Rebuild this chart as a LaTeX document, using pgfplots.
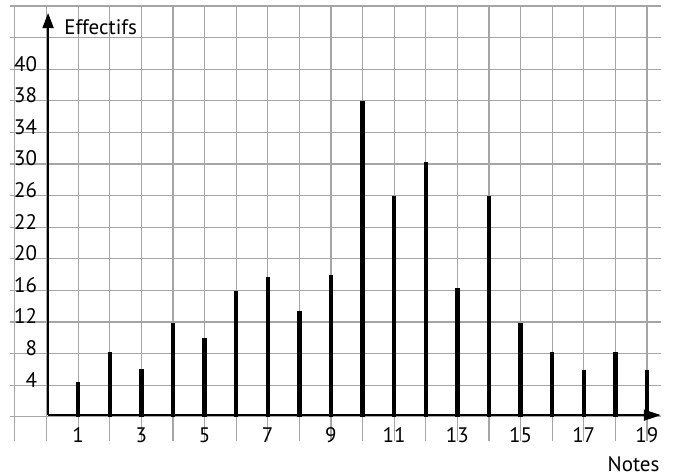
\documentclass[border=0pt]{standalone}
\usepackage{fontspec}
\setmainfont{PT Sans}
\usepackage{pgfplots}
\pgfplotsset{compat=1.18}
\usetikzlibrary{arrows.meta}
\definecolor{gridgray}{RGB}{165,165,165}
\begin{document}
\begin{tikzpicture}
\begin{axis}[
  x=15.8pt, y=3.95pt,
  xmin=-1.155, xmax=19.44, ymin=-3.08, ymax=52,
  axis line style={draw=none},
  tick style={draw=none},
  grid=major,
  major grid style={gridgray, line width=0.6pt},
  xtick={-1,0,...,19},
  xticklabels={,,1,,3,,5,,7,,9,,11,,13,,15,,17,,19},
  ytick={0,4,...,52},
  yticklabels={,4,8,12,16,20,22,26,30,34,38,40,,},
  xticklabel style={anchor=base, inner sep=0pt, yshift=-0.5pt},
  yticklabel style={anchor=base east, inner sep=0pt, xshift=13.75pt, yshift=-1pt},
  /pgf/number format/assume math mode=true,
  tick label style={font=\fontsize{10.5}{12}\selectfont},
  clip=false,
]
\path (axis cs:-1.4715,52.75) rectangle (axis cs:19.889,-7.38);
\addplot[ycomb, black, line width=2.2pt, mark=none] coordinates {
(1,4.4) (2,8.2) (3,6.0) (4,11.9) (5,10.0) (6,15.9) (7,17.7) (8,13.4) (9,17.9) (10,40.0)
(11,27.9) (12,32.2) (13,16.3) (14,27.9) (15,11.9) (16,8.2) (17,5.9) (18,8.2) (19,5.9)
};
\draw[line width=0.8pt, -{Triangle[length=8.5pt,width=5.5pt]}] (axis cs:0.05,0.2) -- (axis cs:19.44,0.2);
\draw[line width=0.8pt, -{Triangle[length=7.5pt,width=5.5pt]}] (axis cs:0.05,0.2) -- (axis cs:0.05,51.1);
\node[anchor=base west, inner sep=0pt, font=\fontsize{10.5}{12}\selectfont] at (axis cs:0.55,48.4) {Effectifs};
\node[anchor=base east, inner sep=0pt, font=\fontsize{10.5}{12}\selectfont] at (axis cs:19.41,-6.87) {Notes};
\end{axis}
\end{tikzpicture}
\end{document}
